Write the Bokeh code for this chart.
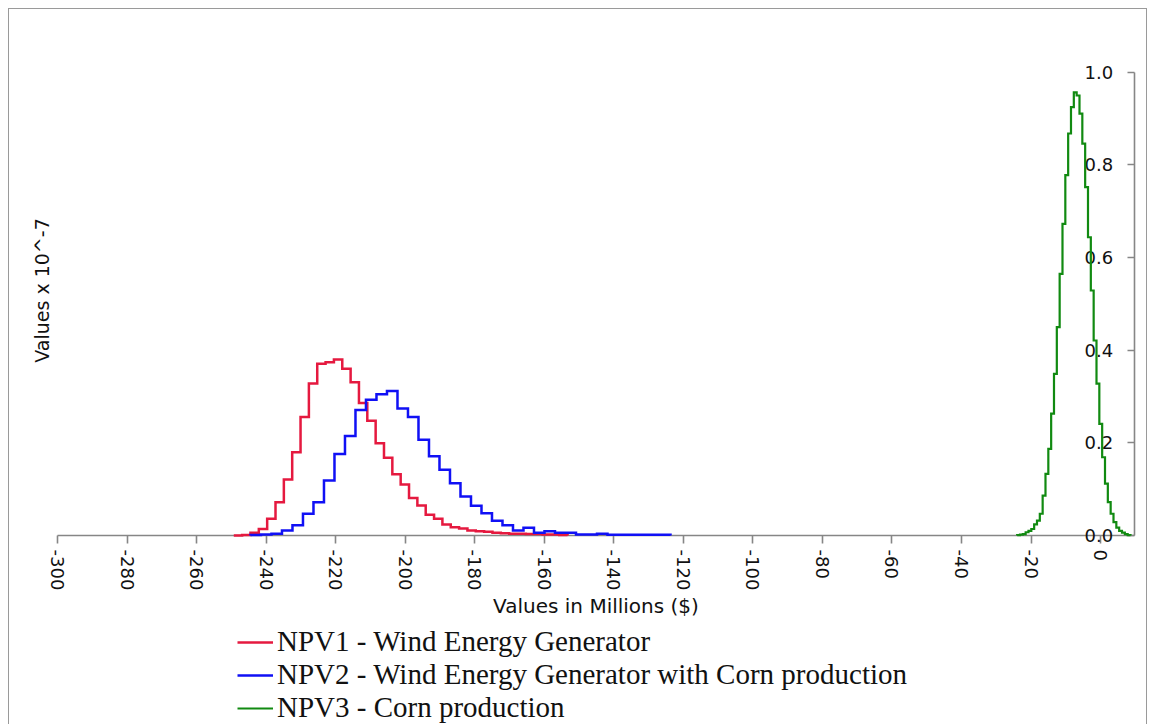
import math
from bokeh.plotting import figure
from bokeh.layouts import column
from bokeh.models import (LinearAxis, FixedTicker, PrintfTickFormatter, Range1d,
                          Legend, LegendItem, Title)
from bokeh.embed import file_html
from bokeh.resources import INLINE

# ---------------- data ----------------
x_ticks = [-300, -280, -260, -240, -220, -200, -180, -160, -140, -120, -100, -80, -60, -40, -20, 0]
y_ticks = [0.0, 0.2, 0.4, 0.6, 0.8, 1.0]

series_names = ["NPV1 - Wind Energy Generator",
                "NPV2 - Wind Energy Generator with Corn production",
                "NPV3 - Corn production"]

# NPV1 histogram (bin start, bin width, heights x 10^-7)
npv1_start = -249.3
npv1_width = 2.4
npv1_vals = [0.0, 0.001, 0.006, 0.014, 0.036, 0.072, 0.121, 0.180, 0.256, 0.328,
             0.371, 0.374, 0.380, 0.360, 0.331, 0.286, 0.248, 0.199, 0.168, 0.132,
             0.110, 0.081, 0.065, 0.045, 0.036, 0.024, 0.018, 0.015, 0.011, 0.009,
             0.008, 0.006, 0.005, 0.004, 0.004, 0.003, 0.003, 0.002, 0.002, 0.001]

# NPV2 histogram
npv2_start = -244.5
npv2_width = 3.02
npv2_vals = [0.001, 0.002, 0.004, 0.011, 0.022, 0.047, 0.072, 0.119, 0.176, 0.215,
             0.271, 0.293, 0.305, 0.312, 0.274, 0.256, 0.207, 0.171, 0.142, 0.113,
             0.084, 0.064, 0.048, 0.032, 0.022, 0.011, 0.017, 0.006, 0.009, 0.006,
             0.006, 0.002, 0.002, 0.004, 0.0015, 0.0015, 0.0015, 0.0015, 0.0015, 0.0015]

# NPV3 histogram
npv3_start = -24.0
npv3_width = 0.815
npv3_vals = [0.001, 0.002, 0.003, 0.007, 0.010, 0.014, 0.024, 0.032, 0.047, 0.086,
             0.133, 0.187, 0.263, 0.349, 0.450, 0.565, 0.673, 0.778, 0.868, 0.925,
             0.957, 0.950, 0.911, 0.846, 0.752, 0.644, 0.529, 0.421, 0.328, 0.241,
             0.169, 0.112, 0.072, 0.047, 0.029, 0.017, 0.010, 0.006, 0.003, 0.001]

colors = ["#E5193F", "#1010F5", "#118A11"]
line_widths = [2.5, 2.5, 2.2]


def step_path(start, width, vals):
    xs = [start]
    ys = [0.0]
    for i, v in enumerate(vals):
        left = start + i * width
        xs += [left, left + width]
        ys += [v, v]
    xs.append(start + len(vals) * width)
    ys.append(0.0)
    return xs, ys


p = figure(width=1137, height=616,
           x_range=Range1d(-300, 9.75), y_range=Range1d(0, 1.058),
           output_backend="svg", toolbar_location=None,
           x_axis_location=None, y_axis_location=None,
           min_border_left=48, min_border_right=12,
           min_border_top=36, min_border_bottom=90)
p.outline_line_color = None
p.background_fill_color = "white"
p.border_fill_color = "white"
for g in p.grid:
    g.visible = False

AXIS_GRAY = "#868686"
TEXT = "#111111"

xaxis = LinearAxis(ticker=FixedTicker(ticks=x_ticks),
                   axis_label="Values in Millions ($)")
xaxis.major_label_overrides = {t: str(t) for t in x_ticks}
xaxis.axis_line_color = AXIS_GRAY
xaxis.axis_line_width = 1.6
xaxis.major_tick_line_color = AXIS_GRAY
xaxis.major_tick_line_width = 1.6
xaxis.major_tick_out = 8
xaxis.major_tick_in = 0
xaxis.minor_tick_out = 0
xaxis.minor_tick_in = 0
xaxis.major_label_orientation = "vertical"
xaxis.major_label_standoff = 6
xaxis.major_label_text_font = "DejaVu Sans"
xaxis.major_label_text_font_size = "18px"
xaxis.major_label_text_color = TEXT
xaxis.axis_label_standoff = 1
xaxis.axis_label_text_font = "DejaVu Sans"
xaxis.axis_label_text_font_size = "20px"
xaxis.axis_label_text_font_style = "normal"
xaxis.axis_label_text_color = TEXT
p.add_layout(xaxis, "below")

yaxis = LinearAxis(bounds=(0, 1), ticker=FixedTicker(ticks=y_ticks),
                   formatter=PrintfTickFormatter(format="%.1f"))
yaxis.axis_line_color = AXIS_GRAY
yaxis.axis_line_width = 1.6
yaxis.major_tick_line_color = AXIS_GRAY
yaxis.major_tick_line_width = 1.6
yaxis.major_tick_in = 7
yaxis.major_tick_out = 0
yaxis.minor_tick_in = 0
yaxis.minor_tick_out = 0
yaxis.major_label_standoff = -50
yaxis.major_label_text_font = "DejaVu Sans"
yaxis.major_label_text_font_size = "18px"
yaxis.major_label_text_color = TEXT
p.add_layout(yaxis, "right")

ytitle = Title(text="Values x 10^-7", align="center", text_font="DejaVu Sans",
               text_font_size="19px", text_font_style="normal", text_color=TEXT)
p.add_layout(ytitle, "left")

renderers = []
for (start, width, vals), col, lw in zip(
        [(npv1_start, npv1_width, npv1_vals),
         (npv2_start, npv2_width, npv2_vals),
         (npv3_start, npv3_width, npv3_vals)],
        colors, line_widths):
    xs, ys = step_path(start, width, vals)
    r = p.line(xs, ys, line_color=col, line_width=lw, line_join="miter")
    r.level = "overlay"
    renderers.append(r)

# legend panel below the chart (its renderers lie outside its visible range)
leg = figure(width=1137, height=99, output_backend="svg", toolbar_location=None,
             x_axis_location=None, y_axis_location=None,
             min_border=0, x_range=Range1d(0, 1), y_range=Range1d(0, 1))
leg.outline_line_color = None
for g in leg.grid:
    g.visible = False
leg_renderers = [leg.line(x=[5, 6], y=[5, 6], line_color=c, line_width=lw)
                 for c, lw in zip(colors, line_widths)]
legend = Legend(items=[LegendItem(label=n, renderers=[r]) for n, r in zip(series_names, leg_renderers)],
                location=(180, 0), orientation="vertical",
                glyph_width=36, glyph_height=30, label_height=30, label_standoff=4,
                spacing=0, padding=0, margin=0,
                border_line_color=None, background_fill_alpha=0,
                label_text_font="Liberation Serif", label_text_font_size="29px",
                label_text_color="#111111")
leg.add_layout(legend)

layout = column(p, leg, spacing=0)
layout.styles = {"margin-left": "8px", "margin-top": "8px",
                 "border-top": "1px solid #9a9a9a",
                 "border-left": "1px solid #9a9a9a",
                 "border-right": "1px solid #9a9a9a"}

open("out.html", "w").write(file_html(layout, INLINE))
